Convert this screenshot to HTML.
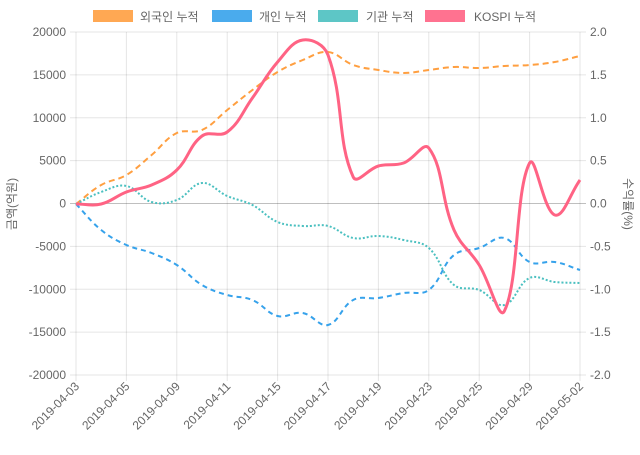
<!DOCTYPE html>
<html><head><meta charset="utf-8"><style>
body{margin:0;background:#fff;}
svg text{font-family:"Liberation Sans","Noto Sans CJK KR",sans-serif;font-size:12px;fill:#666;}
</style></head><body>
<svg id="c" width="640" height="450" xmlns="http://www.w3.org/2000/svg"></svg>
<script>
const s=document.getElementById('c');let h='';
const L=76,R=580,T=32,B=375;
// legend
const leg=[[93,'rgb(255,159,64)','외국인 누적',140],[212,'rgb(54,162,235)','개인 누적',259],[318,'rgb(75,192,192)','기관 누적',366],[425,'rgb(255,99,132)','KOSPI 누적',474]];
leg.forEach(l=>{h+=`<rect x="${l[0]}" y="10" width="40" height="12" fill="${l[1]}" opacity="0.9"/><text x="${l[3]}" y="21">${l[2]}</text>`;});
// horizontal grid
for(let k=0;k<=8;k++){const y=T+k*(B-T)/8;const v=20000-k*5000;
h+=`<line x1="${L-6}" x2="${R+6}" y1="${y}" y2="${y}" stroke="${v==0?'rgba(0,0,0,0.25)':'rgba(0,0,0,0.1)'}"/>`;
h+=`<text x="${L-10}" y="${y+4}" text-anchor="end">${v}</text>`;
h+=`<text x="${R+10}" y="${y+4}">${(2-k*0.5).toFixed(1)}</text>`;}
const dx=(R-L)/20;
const labs=['2019-04-03','2019-04-05','2019-04-09','2019-04-11','2019-04-15','2019-04-17','2019-04-19','2019-04-23','2019-04-25','2019-04-29','2019-05-02'];
labs.forEach((t,j)=>{const x=L+j*2*dx;
h+=`<line x1="${x}" x2="${x}" y1="${T}" y2="${B+6}" stroke="rgba(0,0,0,0.1)"/>`;
h+=`<text transform="translate(${x+4},${B+12}) rotate(-45)" text-anchor="end">${t}</text>`;});
h+=`<text transform="translate(16,204) rotate(-90)" text-anchor="middle">금액(억원)</text>`;
h+=`<text transform="translate(624,204) rotate(90)" text-anchor="middle">수익률(%)</text>`;
function path(ys){const p=ys.map((y,i)=>[L+i*dx,y]);const t=0.4;let d=`M${p[0][0]},${p[0][1]}`;
const cp=p.map((c,i)=>{const a=p[Math.max(0,i-1)],b=p[Math.min(p.length-1,i+1)];
const d01=Math.hypot(c[0]-a[0],c[1]-a[1]),d12=Math.hypot(b[0]-c[0],b[1]-c[1]);
let fa=d01/(d01+d12)||0,fb=d12/(d01+d12)||0;fa*=t;fb*=t;
return{px:c[0]-fa*(b[0]-a[0]),py:c[1]-fa*(b[1]-a[1]),nx:c[0]+fb*(b[0]-a[0]),ny:c[1]+fb*(b[1]-a[1])};});
for(let i=1;i<p.length;i++){d+=` C${cp[i-1].nx},${cp[i-1].ny} ${cp[i].px},${cp[i].py} ${p[i][0]},${p[i][1]}`;}return d;}
const fo=[204,185,175,155,133,130,110,90,72,60,52,65,70,73,70,67,68,66,65,62,56];
const ind=[204,230,245,253,265,285,295,300,316,313,325,300,298,293,290,255,248,238,262,262,270];
const ins=[204,192,186,202,200,183,196,205,222,226,226,238,236,240,248,285,290,305,278,282,283];
const ko=[204,204,192,185,170,136,132,98,62,40,55,177,166,163,148,230,265,311,163,215,180];
h+=`<path d="${path(fo)}" fill="none" stroke="rgb(255,159,64)" stroke-width="2" stroke-dasharray="6,4"/>`;
h+=`<path d="${path(ind)}" fill="none" stroke="rgb(54,162,235)" stroke-width="2" stroke-dasharray="5,4"/>`;
h+=`<path d="${path(ins)}" fill="none" stroke="rgb(75,192,192)" stroke-width="2" stroke-dasharray="2,2"/>`;
h+=`<path d="${path(ko)}" fill="none" stroke="rgb(255,99,132)" stroke-width="3"/>`;
s.innerHTML=h;
</script>
</body></html>
